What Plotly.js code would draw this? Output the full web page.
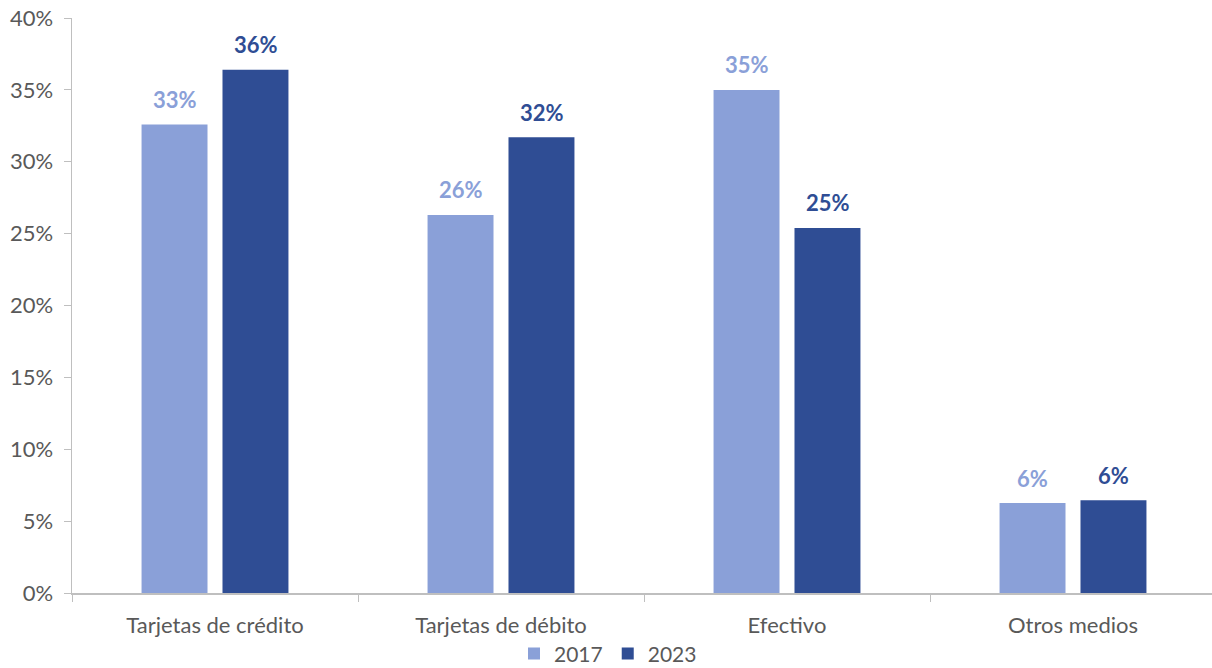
<!DOCTYPE html>
<html><head><meta charset="utf-8">
<script src="https://cdn.plot.ly/plotly-3.0.1.min.js"></script>
<style>html,body{margin:0;padding:0;overflow:hidden;background:#fff}</style>
</head><body>
<div id="chart" style="width:1216px;height:668px"></div>
<script>
const categories = ["Tarjetas de crédito", "Tarjetas de débito", "Efectivo", "Otros medios"];
const values2017 = [0.326, 0.263, 0.350, 0.0626];
const values2023 = [0.364, 0.317, 0.254, 0.0645];
const seriesNames = ["2017", "2023"];
const yTickVals = [0, 0.05, 0.10, 0.15, 0.20, 0.25, 0.30, 0.35, 0.40];

const font = "Lato, 'Open Sans', sans-serif";
const c17 = "#8AA0D8", c23 = "#2F4D94";
const FS = 22;

const traces = [
  {type: "bar", name: seriesNames[0], x: categories, y: values2017, marker: {color: c17}, textposition: "none"},
  {type: "bar", name: seriesNames[1], x: categories, y: values2023, marker: {color: c23}, textposition: "none"}
];

// data labels placed with the axes' own scales (x category, y value), shifted in px above bars
const annotations = [];
[[values2017, c17, -40.5], [values2023, c23, 40.5]].forEach(([vals, col, dx]) => {
  vals.forEach((v, i) => {
    annotations.push({x: categories[i], y: v, xref: "x", yref: "y", xshift: dx, yshift: 25,
      yanchor: "middle", showarrow: false, text: Math.round(v * 100) + "%",
      font: {family: font, size: FS, color: col, weight: "bold"}});
  });
});

const layout = {
  width: 1216, height: 668,
  margin: {l: 72, r: 0, t: 18, b: 75},
  paper_bgcolor: "#fff", plot_bgcolor: "#fff",
  font: {family: font, size: FS, color: "#595959"},
  barmode: "group", bargap: 0.434, bargroupgap: 0.185,
  xaxis: {type: "category", showline: true, linecolor: "#BFBFBF", linewidth: 1.5,
          ticks: "outside", tickson: "boundaries", ticklen: 7, tickcolor: "#BFBFBF",
          ticklabelstandoff: 12, showgrid: false, tickfont: {size: FS, color: "#595959"}},
  yaxis: {range: [0, 0.40], tickvals: yTickVals, tickformat: ".0%", showline: true,
          linecolor: "#BFBFBF", linewidth: 1.5, ticks: "outside", ticklen: 7,
          tickcolor: "#BFBFBF", showgrid: false, zeroline: false, ticklabelstandoff: 6,
          tickfont: {size: FS, color: "#595959"}},
  annotations: annotations,
  showlegend: true,
  legend: {orientation: "h", xref: "container", x: 0.5, xanchor: "center",
           yref: "container", y: 0.021, yanchor: "middle", borderwidth: 0,
           bgcolor: "rgba(0,0,0,0)",
           font: {size: 21, color: "#595959"}, tracegroupgap: 0}
};

Plotly.newPlot("chart", traces, layout, {displayModeBar: false, staticPlot: true});
</script>
</body></html>
